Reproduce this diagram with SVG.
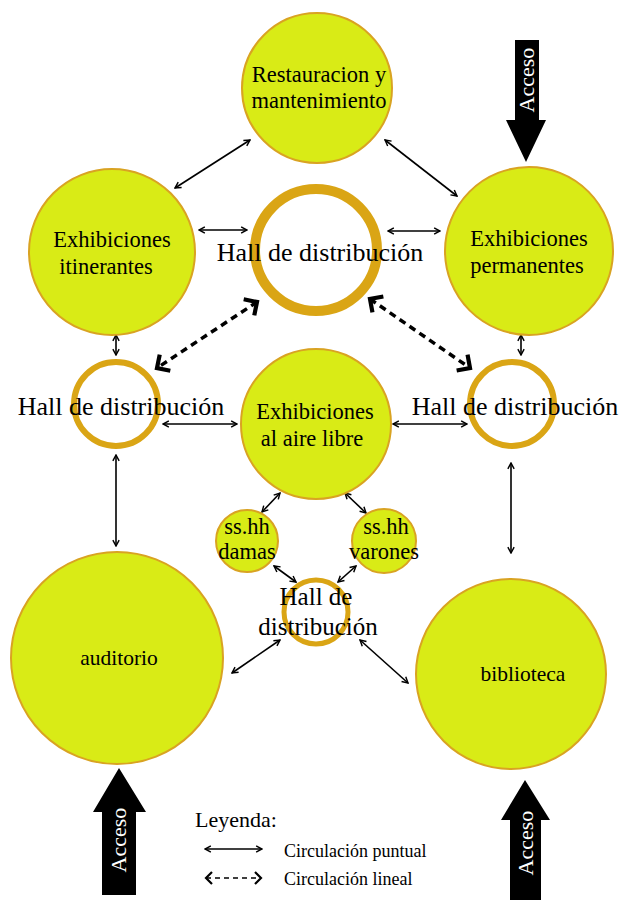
<svg xmlns="http://www.w3.org/2000/svg" width="625" height="900" viewBox="0 0 625 900">
<style>
.n{fill:#D9EB16;stroke:#D9A322;stroke-width:2}
.r{fill:none;stroke:#DAA515}
.t{font-family:"Liberation Serif","Times New Roman",serif;fill:#000;text-anchor:middle}
.l{font-family:"Liberation Serif","Times New Roman",serif;fill:#000}
.s{stroke:#000;stroke-width:1.6;fill:none;marker-start:url(#a);marker-end:url(#a)}
.d{stroke:#000;stroke-width:3.5;fill:none;stroke-dasharray:7 5;marker-start:url(#c);marker-end:url(#c)}
.w{font-family:"Liberation Serif","Times New Roman",serif;fill:#fff;text-anchor:middle;font-size:22px}
</style>
<defs>
<marker id="a" viewBox="0 0 10 10" refX="9" refY="5" markerWidth="9" markerHeight="9" orient="auto-start-reverse" markerUnits="userSpaceOnUse"><path d="M2.5,1.5 L9,5 L2.5,8.5" fill="none" stroke="#000" stroke-width="1.6"/></marker>
<marker id="c" viewBox="0 0 20 20" refX="17" refY="10" markerWidth="24" markerHeight="24" orient="auto-start-reverse" markerUnits="userSpaceOnUse"><path d="M9,2 L17,10 L9,18" fill="none" stroke="#000" stroke-width="3.5"/></marker>
</defs>

<g id="connectors">
<line class="s" x1="250" y1="140" x2="175" y2="188"/>
<line class="s" x1="385" y1="140" x2="457" y2="196"/>
<line class="s" x1="199" y1="230" x2="247" y2="230"/>
<line class="s" x1="388" y1="231" x2="440" y2="231"/>
<line class="s" x1="116" y1="335" x2="116" y2="355"/>
<line class="s" x1="521" y1="335" x2="521" y2="355"/>
<line class="s" x1="163" y1="424" x2="237" y2="424"/>
<line class="s" x1="393" y1="424" x2="467" y2="424"/>
<line class="s" x1="116" y1="455" x2="116" y2="546"/>
<line class="s" x1="511" y1="463" x2="511" y2="553"/>
<line class="s" x1="280" y1="493" x2="262" y2="512"/>
<line class="s" x1="345" y1="493" x2="366" y2="513"/>
<line class="s" x1="274" y1="566" x2="296" y2="582"/>
<line class="s" x1="356" y1="566" x2="338" y2="582"/>
<line class="s" x1="280" y1="640" x2="232" y2="673"/>
<line class="s" x1="360" y1="640" x2="408" y2="683"/>
<line class="d" x1="257" y1="302" x2="157" y2="368"/>
<line class="d" x1="370" y1="299" x2="470" y2="368"/>
</g>

<g id="restauracion"><circle class="n" cx="317" cy="88" r="75"/>
<text class="t" font-size="22.5" x="319" y="82">Restauracion y</text>
<text class="t" font-size="22.5" x="319" y="108">mantenimiento</text></g>

<g id="itinerantes"><circle class="n" cx="112" cy="252" r="83"/>
<text class="t" font-size="22.5" x="112" y="247">Exhibiciones</text>
<text class="t" font-size="22.5" x="106" y="274">itinerantes</text></g>

<g id="permanentes"><circle class="n" cx="529" cy="251" r="84"/>
<text class="t" font-size="22.5" x="529" y="246">Exhibiciones</text>
<text class="t" font-size="22.5" x="527" y="273">permanentes</text></g>

<g id="hall-top"><circle class="r" cx="316" cy="250" r="61" stroke-width="10"/>
<text class="t" font-size="26" x="320" y="261">Hall de distribución</text></g>

<g id="hall-left"><circle class="r" cx="116" cy="404" r="42" stroke-width="6"/>
<text class="t" font-size="26" x="121" y="415">Hall de distribución</text></g>

<g id="hall-right"><circle class="r" cx="512" cy="404" r="42" stroke-width="6"/>
<text class="t" font-size="26" x="515" y="415">Hall de distribución</text></g>

<g id="aire-libre"><circle class="n" cx="316" cy="424" r="75"/>
<text class="t" font-size="22.5" x="315" y="419">Exhibiciones</text>
<text class="t" font-size="22.5" x="312" y="446">al aire libre</text></g>

<g id="damas"><circle class="n" cx="247" cy="541" r="31"/>
<text class="t" font-size="22.5" x="247" y="534">ss.hh</text>
<text class="t" font-size="22.5" x="247" y="559">damas</text></g>

<g id="varones"><circle class="n" cx="384" cy="541" r="32"/>
<text class="t" font-size="22.5" x="386" y="534">ss.hh</text>
<text class="t" font-size="22.5" x="384" y="559">varones</text></g>

<g id="hall-bottom"><circle class="r" cx="316" cy="612" r="32" stroke-width="5"/>
<text class="t" font-size="25" x="316" y="605">Hall de</text>
<text class="t" font-size="25" x="318" y="635">distribución</text></g>

<g id="auditorio"><circle class="n" cx="117" cy="658" r="106"/>
<text class="t" font-size="21.5" x="119" y="665">auditorio</text></g>

<g id="biblioteca"><circle class="n" cx="511" cy="674" r="95"/>
<text class="t" font-size="21.5" x="523" y="681">biblioteca</text></g>

<g id="acceso-top">
<polygon points="515,40 539,40 539,120 546,120 526,162 506,120 515,120" fill="#000"/>
<text class="w" transform="translate(534,80) rotate(-90)">Acceso</text></g>

<g id="acceso-left">
<polygon points="119,768 146,812 136,812 136,895 102,895 102,812 93,812" fill="#000"/>
<text class="w" transform="translate(126,840) rotate(-90)">Acceso</text></g>

<g id="acceso-right">
<polygon points="525,780 550,820 541,820 541,900 510,900 510,820 501,820" fill="#000"/>
<text class="w" transform="translate(533,843) rotate(-90)">Acceso</text></g>

<g id="legend">
<text class="l" font-size="22" x="195" y="827">Leyenda:</text>
<line class="s" x1="205" y1="849" x2="262" y2="849"/>
<text class="l" font-size="18" x="284" y="857">Circulación puntual</text>
<line x1="206" y1="878" x2="261" y2="878" stroke="#000" stroke-width="1.6" stroke-dasharray="5 4"/>
<path d="M212,872 L206,878 L212,884 M255,872 L261,878 L255,884" fill="none" stroke="#000" stroke-width="2.2"/>
<text class="l" font-size="18" x="284" y="885">Circulación lineal</text>
</g>
</svg>
